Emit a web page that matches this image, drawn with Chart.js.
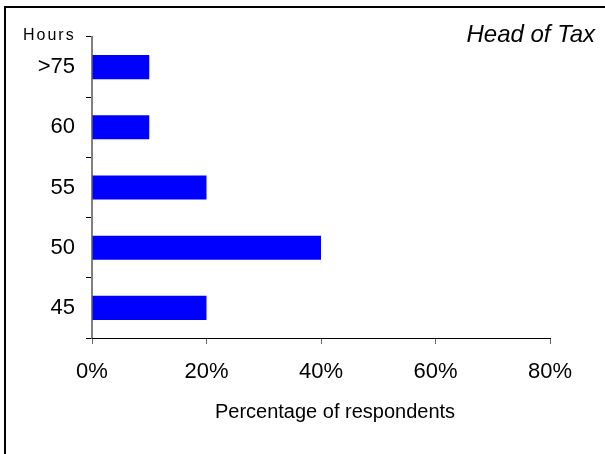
<!DOCTYPE html>
<html>
<head>
<meta charset="utf-8">
<script src="https://cdn.jsdelivr.net/npm/chart.js@4/dist/chart.umd.min.js"></script>
<style>
  html, body { margin: 0; padding: 0; background: #fff; overflow: hidden; }
  #wrap { position: relative; width: 605px; height: 454px; }
  #frame {
    position: absolute; left: 4px; top: 6px; width: 700px; height: 600px;
    border-left: 2px solid #000; border-top: 2px solid #000;
  }
  canvas { position: absolute; left: 0; top: 0; }
</style>
</head>
<body>
<div id="wrap">
  <div id="frame"></div>
  <canvas id="chart" width="605" height="454"></canvas>
</div>
<script>
const hours = [">75", "60", "55", "50", "45"];
const respondents = [10, 10, 20, 40, 20];
const xTicks = [0, 20, 40, 60, 80];

const FONT = "'Liberation Sans', Arial, Helvetica, sans-serif";

// captions drawn by hand: axis unit, role name and the x axis title
// (the title sits a little right of the plot centre)
const captions = {
  id: "captions",
  afterDraw(chart) {
    const ctx = chart.ctx;
    ctx.save();
    ctx.fillStyle = "#000";
    ctx.textBaseline = "alphabetic";
    ctx.font = "16px " + FONT;
    ctx.letterSpacing = "2px";
    ctx.textAlign = "left";
    ctx.fillText("Hours", 23, 40);
    ctx.letterSpacing = "0px";
    ctx.font = "italic 24px " + FONT;
    ctx.textAlign = "right";
    ctx.fillText("Head of Tax", 595, 42);
    ctx.font = "20px " + FONT;
    ctx.textAlign = "center";
    ctx.textBaseline = "middle";
    ctx.fillText("Percentage of respondents", 335, 412);
    ctx.restore();
  },
};

new Chart(document.getElementById("chart"), {
  type: "bar",
  data: {
    labels: hours,
    datasets: [{
      data: respondents,
      backgroundColor: "#0000ff",
      borderWidth: 0,
      categoryPercentage: 1,
      barPercentage: 0.4,
    }],
  },
  options: {
    indexAxis: "y",
    responsive: false,
    animation: false,
    devicePixelRatio: 1,
    layout: { padding: { top: 37, right: 55, bottom: 0, left: 0 } },
    plugins: {
      legend: { display: false },
      tooltip: { enabled: false },
    },
    scales: {
      y: {
        afterFit: (scale) => { scale.width = 92; },
        border: { color: "#808080", width: 2 },
        grid: {
          offset: true,
          drawOnChartArea: false,
          tickLength: 6,
          color: "#000",
        },
        ticks: {
          color: "#000",
          padding: 11,
          font: { family: FONT, size: 22 },
        },
      },
      x: {
        min: 0,
        max: 80,
        afterFit: (scale) => { scale.height = 116; },
        afterBuildTicks: (scale) => { scale.ticks = xTicks.map((v) => ({ value: v })); },
        border: { color: "#000", width: 1 },
        grid: {
          drawOnChartArea: false,
          tickLength: 6,
          color: "#666",
        },
        ticks: {
          color: "#000",
          padding: 15,
          font: { family: FONT, size: 22 },
          callback: (v) => v + "%",
        },
      },
    },
  },
  plugins: [captions],
});
</script>
</body>
</html>
